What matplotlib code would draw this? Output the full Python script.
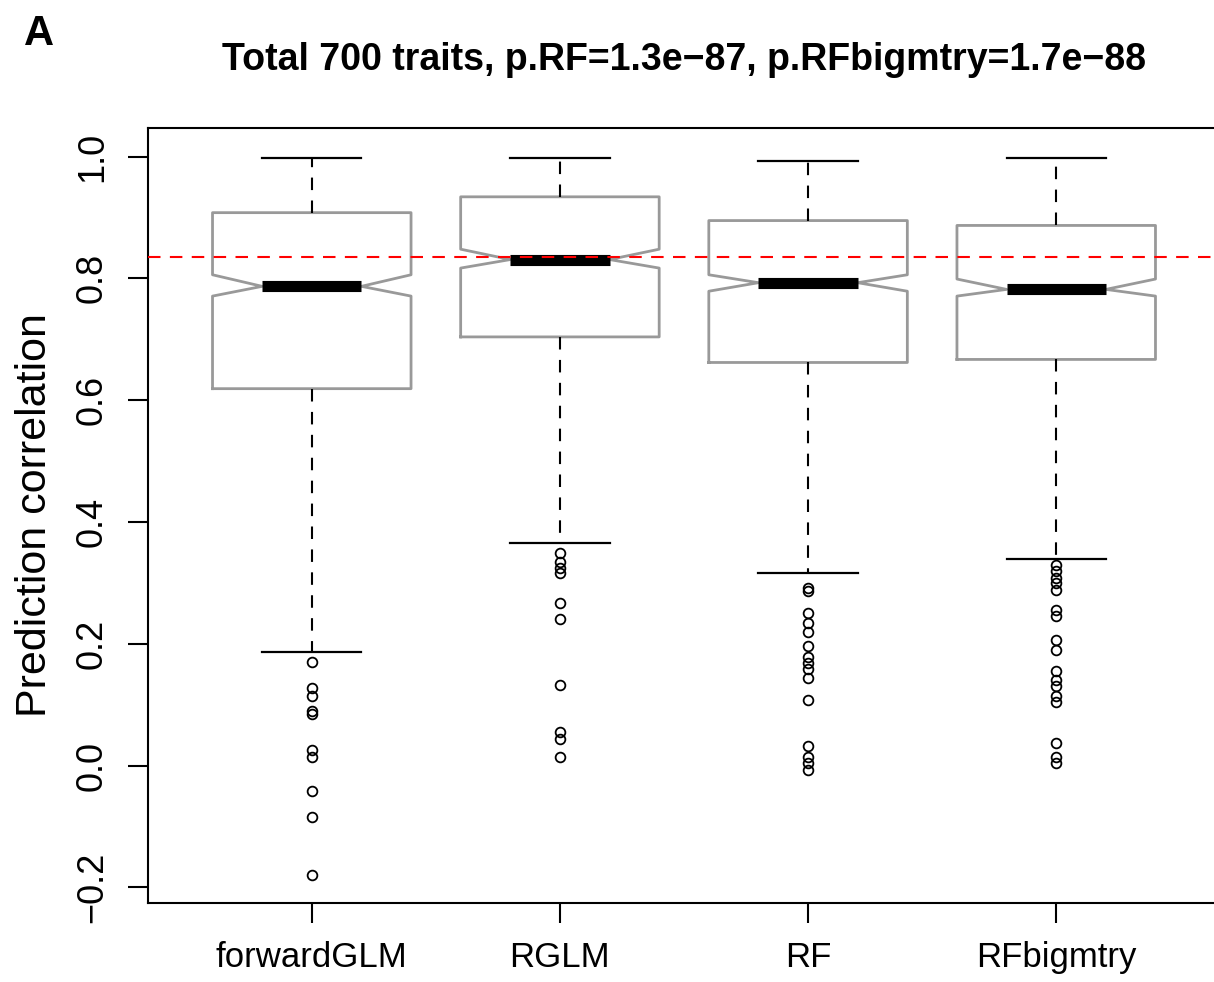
import matplotlib
matplotlib.use("Agg")
import matplotlib.pyplot as plt

# values
methods = ["forwardGLM", "RGLM", "RF", "RFbigmtry"]
q1 = [0.619, 0.704, 0.662, 0.667]
medians = [0.787, 0.831, 0.793, 0.782]
q3 = [0.908, 0.934, 0.895, 0.887]
whisker_lo = [0.186, 0.365, 0.316, 0.340]
whisker_hi = [0.997, 0.997, 0.992, 0.997]
notch_lo = [0.771, 0.817, 0.779, 0.771]
notch_hi = [0.806, 0.848, 0.806, 0.799]
outliers = [
    [0.171, 0.128, 0.114, 0.090, 0.085, 0.026, 0.015, -0.041, -0.085, -0.179],
    [0.349, 0.335, 0.324, 0.316, 0.267, 0.241, 0.132, 0.055, 0.043, 0.014],
    [0.292, 0.286, 0.251, 0.234, 0.220, 0.197, 0.179, 0.169, 0.158, 0.144,
     0.108, 0.032, 0.015, 0.004, -0.007],
    [0.330, 0.319, 0.308, 0.300, 0.289, 0.256, 0.245, 0.207, 0.190, 0.155,
     0.141, 0.130, 0.114, 0.105, 0.037, 0.015, 0.004],
]
ref_line = 0.835
title = "Total 700 traits, p.RF=1.3e\u221287, p.RFbigmtry=1.7e\u221288"

plain = ["Liberation Sans", "DejaVu Sans"]

stats = []
for i, name in enumerate(methods):
    stats.append(dict(label=name, med=medians[i], q1=q1[i], q3=q3[i],
                      whislo=whisker_lo[i], whishi=whisker_hi[i],
                      cilo=notch_lo[i], cihi=notch_hi[i], fliers=outliers[i]))

fig = plt.figure(figsize=(12.14, 9.82), dpi=100)
ax = fig.add_axes([148 / 1214, 1 - 903 / 982, (1220 - 148) / 1214, (903 - 128) / 982])

ax.bxp(stats, positions=range(1, 5), widths=0.8, shownotches=True,
       boxprops=dict(color="#999999", linewidth=2.0),
       medianprops=dict(color="black", linewidth=8, solid_capstyle="butt"),
       whiskerprops=dict(color="black", linewidth=1.5, linestyle=(0, (6, 5))),
       capprops=dict(color="black", linewidth=1.6),
       flierprops=dict(marker="o", markersize=7, markerfacecolor="none",
                       markeredgecolor="black", markeredgewidth=1.3))

ax.axhline(ref_line, color="red", linewidth=1.5, linestyle=(0, (6, 4.5)), zorder=10)

ax.set_xlim(0.34, 4.66)
ax.set_ylim(-0.2255, 1.047)
ax.set_yticks([-0.2, 0.0, 0.2, 0.4, 0.6, 0.8, 1.0])
ax.set_yticklabels(["\u22120.2", "0.0", "0.2", "0.4", "0.6", "0.8", "1.0"])
ax.set_xticks(range(1, 5))
ax.set_xticklabels(methods, family=plain, fontsize=25)
for lab in ax.get_yticklabels():
    lab.set_rotation(90)
    lab.set_va("center")
    lab.set_family(plain)
    lab.set_fontsize(26)

ax.tick_params(length=14.4, width=1.5, pad=13)
for s in ax.spines.values():
    s.set_linewidth(1.5)

ax.set_ylabel("Prediction correlation", family=plain, fontsize=31, labelpad=14)

fig.text(684 / 1214, 1 - 70 / 982, title, ha="center", va="baseline",
         family=plain, fontweight="bold", fontsize=27)
fig.text(24 / 1214, 1 - 45 / 982, "A", ha="left", va="baseline",
         family=plain, fontweight="bold", fontsize=30)

fig.savefig("out.png", dpi=100)
